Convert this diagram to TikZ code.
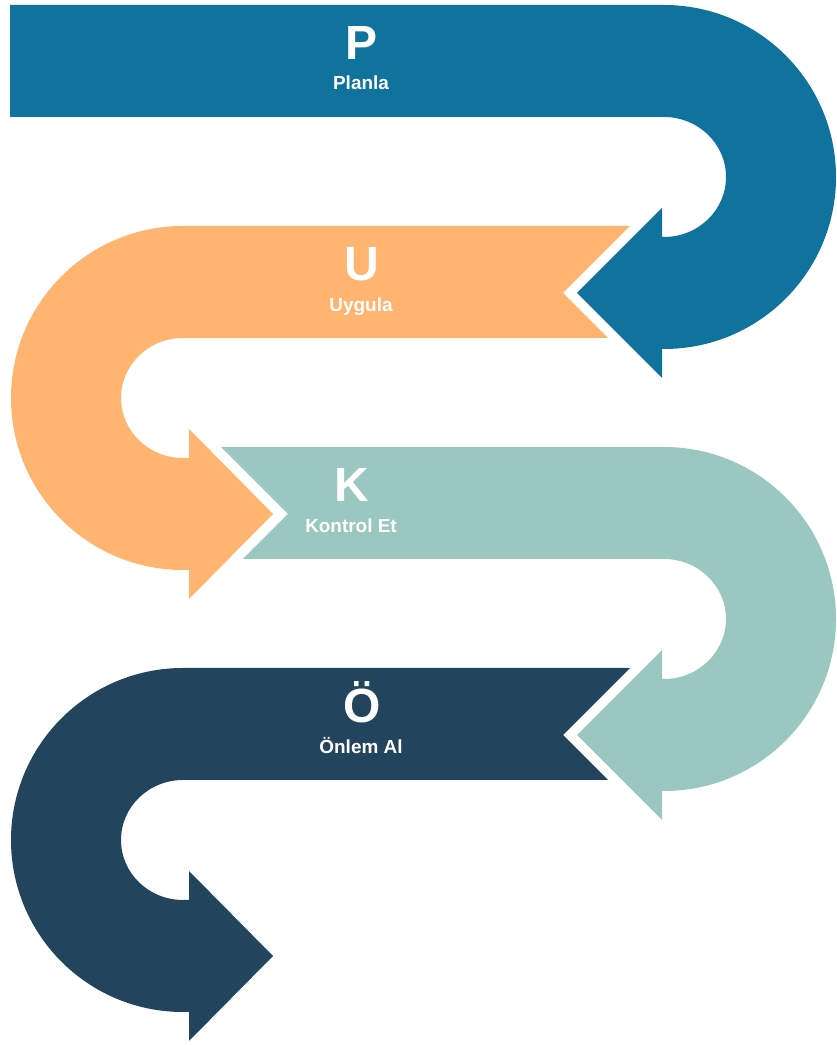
\documentclass[tikz,border=0pt]{standalone}
\usepackage{fontspec}
\setmainfont{Liberation Sans}
\definecolor{cblue}{HTML}{10739E}
\definecolor{corange}{HTML}{FFB570}
\definecolor{cteal}{HTML}{9AC7BF}
\definecolor{cnavy}{HTML}{23445D}
\tikzset{
  big/.style={text=white,font=\fontsize{36}{40}\selectfont\bfseries,anchor=base,inner sep=0pt},
  small/.style={text=white,font=\fontsize{14.2}{16}\selectfont\bfseries,anchor=base,inner sep=0pt}
}
\begin{document}
\begin{tikzpicture}[x=0.75pt,y=0.75pt]
\useasboundingbox (0,0) rectangle (836,1045);
% blue
\fill[cblue] (10,1040) -- (664,1040) arc[start angle=90,end angle=-90,radius=172]
  -- (662,696) -- (662,667) -- (577,752) -- (662,837) -- (662,808) -- (664,808)
  arc[start angle=-90,end angle=90,x radius=62,y radius=60] -- (10,928) -- cycle;
% orange
\fill[corange] (630,819) -- (563,752) -- (608,707) -- (183,707)
  arc[start angle=90,end angle=270,x radius=62,y radius=60]
  -- (189,587) -- (189,616) -- (273,531) -- (189,446) -- (189,475) -- (183,475)
  arc[start angle=270,end angle=90,radius=172] -- cycle;
% teal
\fill[cteal] (221,598) -- (288,531) -- (243,486) -- (664,486)
  arc[start angle=90,end angle=-90,x radius=62,y radius=60]
  -- (662,366) -- (662,395) -- (577,310) -- (662,225) -- (662,254) -- (664,254)
  arc[start angle=-90,end angle=90,radius=172] -- cycle;
% navy
\fill[cnavy] (630,377) -- (563,310) -- (608,265) -- (183,265)
  arc[start angle=90,end angle=270,x radius=62,y radius=60]
  -- (189,145) -- (189,174) -- (273,89) -- (189,4) -- (189,33) -- (183,33)
  arc[start angle=270,end angle=90,radius=172] -- cycle;
% labels
\node[big] (p) at (362,985) {P};
\node[small] (pl) at (361,955) {Planla};
\node[big] (u) at (362,764) {U};
\node[small] (ul) at (361,733) {Uygula};
\node[big] (k) at (352,543) {K};
\node[small] (kl) at (351,512) {Kontrol Et};
\node[big] (o) at (362,322) {Ö};
\node[small] (ol) at (361,291) {Önlem Al};
\end{tikzpicture}
\end{document}
